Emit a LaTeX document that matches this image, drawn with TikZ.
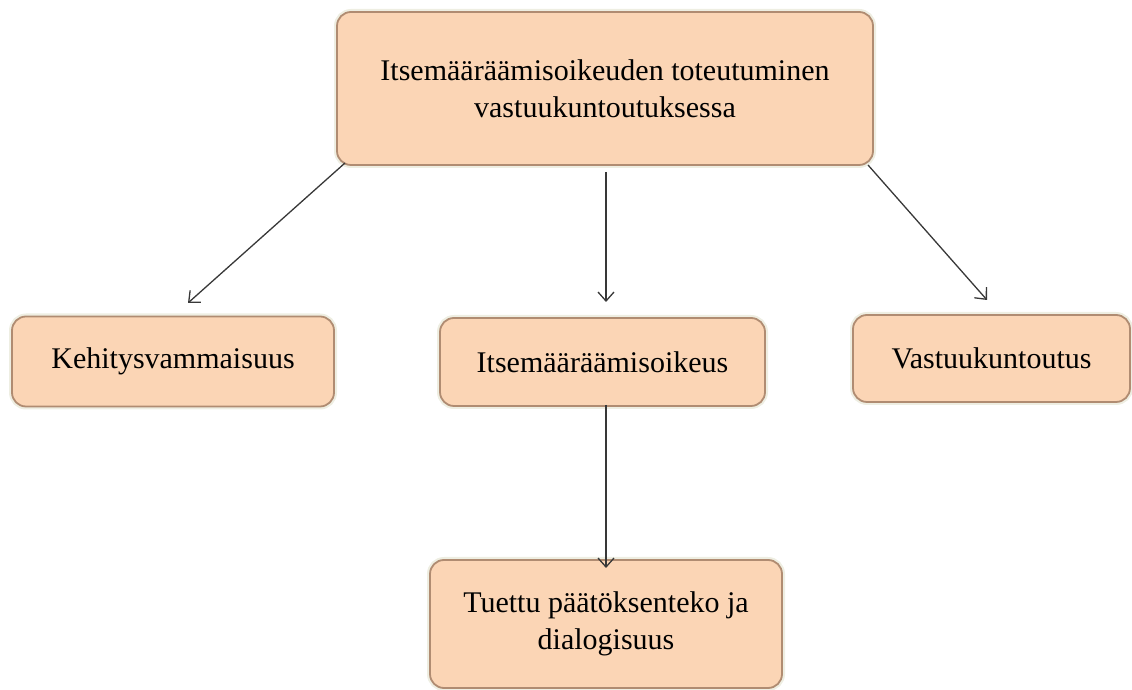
\documentclass[tikz,border=0pt]{standalone}
\usepackage{fontspec}
\setmainfont{Liberation Serif}
\usetikzlibrary{arrows.meta}
\definecolor{peach}{HTML}{FBD5B5}
\definecolor{boxedge}{HTML}{B08C72}
\definecolor{innershade}{HTML}{E8C2A4}
\definecolor{halo}{HTML}{EEEEE2}
\definecolor{arrowgray}{HTML}{383838}
\tikzset{
  boxnode/.style={rectangle, rounded corners=14pt, fill=peach, draw=boxedge, line width=1.8pt,
    preaction={draw=halo, line width=6pt},
    align=center, inner sep=0pt, font=\fontsize{30}{37}\selectfont},
  conn/.style={draw=arrowgray, line width=1.3pt, -{Straight Barb[length=9pt,width=16pt,line width=1.3pt]}}
}
\begin{document}
\begin{tikzpicture}[x=1pt,y=1pt]
\useasboundingbox (0,0) rectangle (1132,690);
\node[boxnode, minimum width=536pt, minimum height=153pt] (T) at (605,601.5)
  {Itsemääräämisoikeuden toteutuminen\\vastuukuntoutuksessa};
\node[boxnode, minimum width=322pt, minimum height=90pt] (K) at (173,328.5) {Kehitysvammaisuus};
\node[boxnode, minimum width=325pt, minimum height=88pt] (I) at (602.5,328) {Itsemääräämisoikeus};
\node[boxnode, minimum width=277pt, minimum height=87pt] (V) at (991.5,331.5) {Vastuukuntoutus};
\node[boxnode, minimum width=352pt, minimum height=128pt] (B) at (606,66) {Tuettu päätöksenteko ja\\dialogisuus};
\coordinate (t1) at (345,527);
\coordinate (k1) at (188,387);
\coordinate (t2) at (606,518);
\coordinate (i1) at (606,388);
\coordinate (t3) at (868,525);
\coordinate (v1) at (987,390);
\coordinate (i2) at (606,285);
\coordinate (b1) at (606,122);
\draw[conn] (t1) -- (k1);
\draw[conn] (t2) -- (i1);
\draw[conn] (t3) -- (v1);
\draw[conn] (i2) -- (b1);
\end{tikzpicture}
\end{document}
